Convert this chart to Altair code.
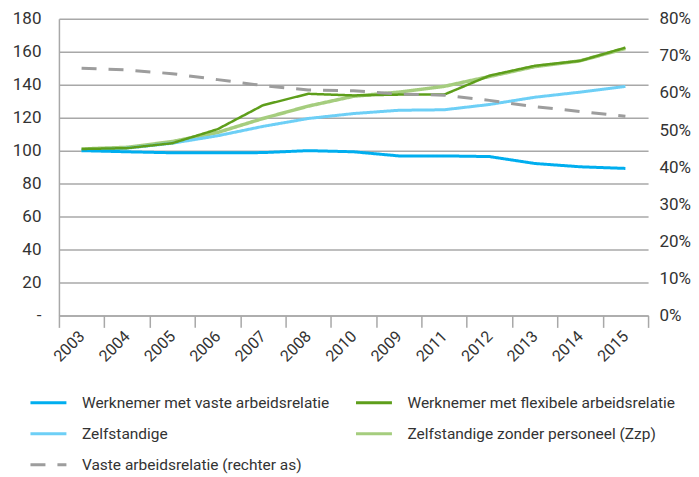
import altair as alt
import pandas as pd

years = ["2003", "2004", "2005", "2006", "2007", "2008", "2010", "2009", "2011", "2012", "2013", "2014", "2015"]
vaste = [100, 99.3, 98.7, 98.7, 98.8, 100, 99.3, 96.8, 96.8, 96.4, 92.2, 90.2, 89.2]
flex = [101, 101.5, 104.5, 113, 127.5, 134.5, 133.5, 134, 134, 145.5, 151.5, 154.5, 162.5]
zelf = [100, 101.5, 104.5, 109, 114.7, 119.5, 122.5, 124.5, 124.8, 128, 132.4, 135.5, 139]
zzp = [101, 102, 105.5, 111, 119.5, 127, 133, 135.5, 139, 145, 151, 154.5, 162]
vaste_pct = [66.7, 66.2, 65.2, 63.6, 62, 60.8, 60.6, 59.7, 59.4, 58, 56.3, 55, 53.7]

names = [
    "Werknemer met vaste arbeidsrelatie",
    "Werknemer met flexibele arbeidsrelatie",
    "Zelfstandige",
    "Zelfstandige zonder personeel (Zzp)",
    "Vaste arbeidsrelatie (rechter as)",
]
colors = ["#00AEEF", "#5E9E1B", "#6DCFF6", "#A5CD7E", "#9D9D9D"]
dashes = [[1, 0], [1, 0], [1, 0], [1, 0], [15, 12]]

rows = []
for s, vals in zip(names[:4], [vaste, flex, zelf, zzp]):
    for y, v in zip(years, vals):
        rows.append({"year": y, "series": s, "value": v})
df = pd.DataFrame(rows)
df_pct = pd.DataFrame({"year": years, "series": names[4], "pct": vaste_pct})

FONT = "Roboto"
TXT = "#333333"
GRID = "#A8A8A8"

legend = alt.Legend(
    title=None, orient="none", legendX=-20, legendY=375, columns=2,
    direction="horizontal", symbolType="M-2.25,0L2.25,0", symbolSize=256,
    symbolStrokeWidth=3, labelLimit=0,
    labelFont=FONT, labelFontSize=15.5, labelColor=TXT,
    rowPadding=13, columnPadding=20, labelOffset=24, padding=0,
)
color_scale = alt.Scale(domain=names, range=colors)
dash_scale = alt.Scale(domain=names, range=dashes)
color = alt.Color("series:N", scale=color_scale, legend=legend)
dash = alt.StrokeDash("series:N", scale=dash_scale, legend=legend)

x = alt.X(
    "year:N", sort=years,
    scale=alt.Scale(paddingInner=0, paddingOuter=0),
    axis=alt.Axis(
        title=None, labelAngle=-45, labelAlign="right", labelBaseline="middle",
        tickBand="extent", tickSize=12, labelPadding=6, grid=False,
        domainColor=GRID, tickColor=GRID, domainWidth=1.5, tickWidth=1.5,
        labelFont=FONT, labelFontSize=16, labelColor=TXT,
    ),
)

y_left = alt.Y(
    "value:Q", scale=alt.Scale(domain=[0, 180]),
    axis=alt.Axis(
        title=None, values=list(range(0, 181, 20)),
        labelExpr="datum.value == 0 ? '-\u00a0\u00a0' : datum.label",
        grid=True, gridColor=GRID, gridWidth=1.5, domain=True, domainColor=GRID,
        domainWidth=1.5, ticks=False, labelPadding=18,
        labelFont=FONT, labelFontSize=17, labelColor=TXT,
    ),
)
y_right = alt.Y(
    "pct:Q", scale=alt.Scale(domain=[0, 80]),
    axis=alt.Axis(
        title=None, orient="right", values=list(range(0, 81, 10)),
        labelExpr="datum.value + '%'", grid=False, domain=False, ticks=False,
        labelPadding=11, labelFont=FONT, labelFontSize=17, labelColor=TXT,
    ),
)

base = alt.Chart(df)


def series_layer(name, width):
    return base.transform_filter(alt.datum.series == name).mark_line(
        strokeWidth=width
    ).encode(x=x, y=y_left, color=color, strokeDash=dash)


left = alt.layer(
    series_layer(names[3], 3.5),
    series_layer(names[2], 3),
    series_layer(names[0], 3),
    series_layer(names[1], 2.5),
)

right = alt.Chart(df_pct).mark_line(strokeWidth=3).encode(
    x=x, y=y_right, color=color, strokeDash=dash
)

chart = alt.layer(left, right).resolve_scale(y="independent").properties(
    width=590, height=297,
    padding={"left": 4, "top": 1.5, "right": 0, "bottom": 0},
    background="white",
).configure_view(stroke=None)

chart.save("out.html", embed_options={"renderer": "svg", "actions": False})
